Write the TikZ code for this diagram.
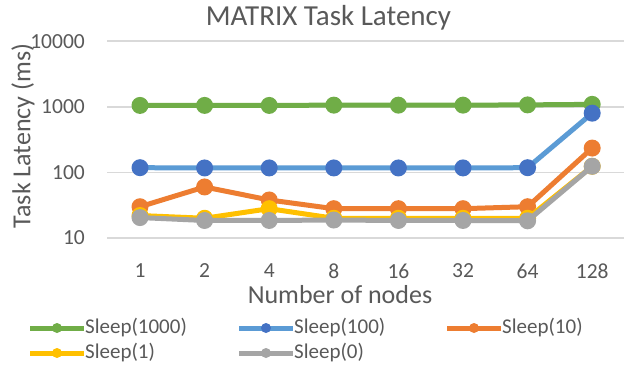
\documentclass[tikz,border=0pt]{standalone}
\usepackage{fontspec}
\setmainfont{Carlito}
\usepackage{tikz}

\definecolor{txtgray}{HTML}{595959}
\definecolor{gridgray}{HTML}{D9D9D9}
\definecolor{sgreen}{HTML}{70AD47}
\definecolor{sblue}{HTML}{5B9BD5}
\definecolor{sbluedot}{HTML}{4472C4}
\definecolor{sorange}{HTML}{ED7D31}
\definecolor{syellow}{HTML}{FFC000}
\definecolor{sgray}{HTML}{A5A5A5}

% one series: name, line colour, marker colour, values
\newcommand{\series}[4]{%
  \foreach \v [count=\i] in {#4}
    \coordinate (#1\i) at ({140+64.6*(\i-1)},{238-65.6*(log10(\v)-1)});
  \draw[serie,#2] (#11) \foreach \i in {2,...,8}{ -- (#1\i)};
  \foreach \i in {1,...,8}
    \fill[#3] (#1\i) circle (8.5);
}

% one legend entry: name, line colour, marker colour, x, y, text
\newcommand{\legentry}[6]{%
  \coordinate (#1a) at (#4,#5);
  \coordinate (#1b) at ({#4+54},#5);
  \draw[legline,#2] (#1a) -- (#1b);
  \fill[#3] ($(#1a)!0.5!(#1b)$) circle (5);
  \node[anchor=west,font=\legsize] (#1t) at ({#4+55},#5) {#6};
}

\newcommand{\ticksize}{\fontsize{21.5}{24}\selectfont}
\newcommand{\legsize}{\fontsize{21}{24}\selectfont}
\newcommand{\titlesize}{\fontsize{26}{30}\selectfont}

\usetikzlibrary{calc}

\begin{document}
\begin{tikzpicture}[x=1pt,y=-1pt]
\tikzstyle{every node}=[text=txtgray,inner sep=0pt]
\tikzstyle{gridline}=[draw=gridgray,line width=1.5pt]
\tikzstyle{serie}=[line width=5pt,line join=round]
\tikzstyle{legline}=[line width=5pt]

\fill[white] (0,0) rectangle (626,365);
\useasboundingbox (0,0) rectangle (626,365);

\node[font=\fontsize{29}{32}\selectfont] (title) at (328.5,18) {MATRIX Task Latency};

% log axis: gridlines and labels
\foreach \e/\lab in {1/10,2/100,3/1000,4/10000}{
  \draw[gridline] (107,{238-65.6*(\e-1)}) -- (624,{238-65.6*(\e-1)});
  \node[anchor=east,font=\ticksize] (y\e) at (85,{238-65.6*(\e-1)}) {\lab};
}
\node[rotate=90,font=\titlesize] (ytitle) at (23,136) {Task Latency (ms)};

\foreach \n [count=\i] in {1,2,4,8,16,32,64,128}
  \node[font=\ticksize] (x\i) at ({140+64.6*(\i-1)},271) {\n};
\node[font=\titlesize] (xtitle) at (340,295) {Number of nodes};

% data
\series{green}{sgreen}{sgreen}{1050,1050,1050,1060,1060,1060,1070,1090}
\series{blue}{sblue}{sbluedot}{118,117,117,117,117,117,118,800}
\series{orange}{sorange}{sorange}{30,60,38,28,28,28,30,235}
\series{yellow}{syellow}{syellow}{22,20,28,20,20,20,20,124}
\series{gray}{sgray}{sgray}{20.5,18.5,18.5,18.8,18.5,18.5,18.3,124}

% legend
\legentry{lga}{sgreen}{sgreen}{30}{328}{Sleep(1000)}
\legentry{lgb}{sblue}{sbluedot}{239}{328}{Sleep(100)}
\legentry{lgc}{sorange}{sorange}{447}{328}{Sleep(10)}
\legentry{lgd}{syellow}{syellow}{30}{353}{Sleep(1)}
\legentry{lge}{sgray}{sgray}{239}{353}{Sleep(0)}
\end{tikzpicture}
\end{document}
